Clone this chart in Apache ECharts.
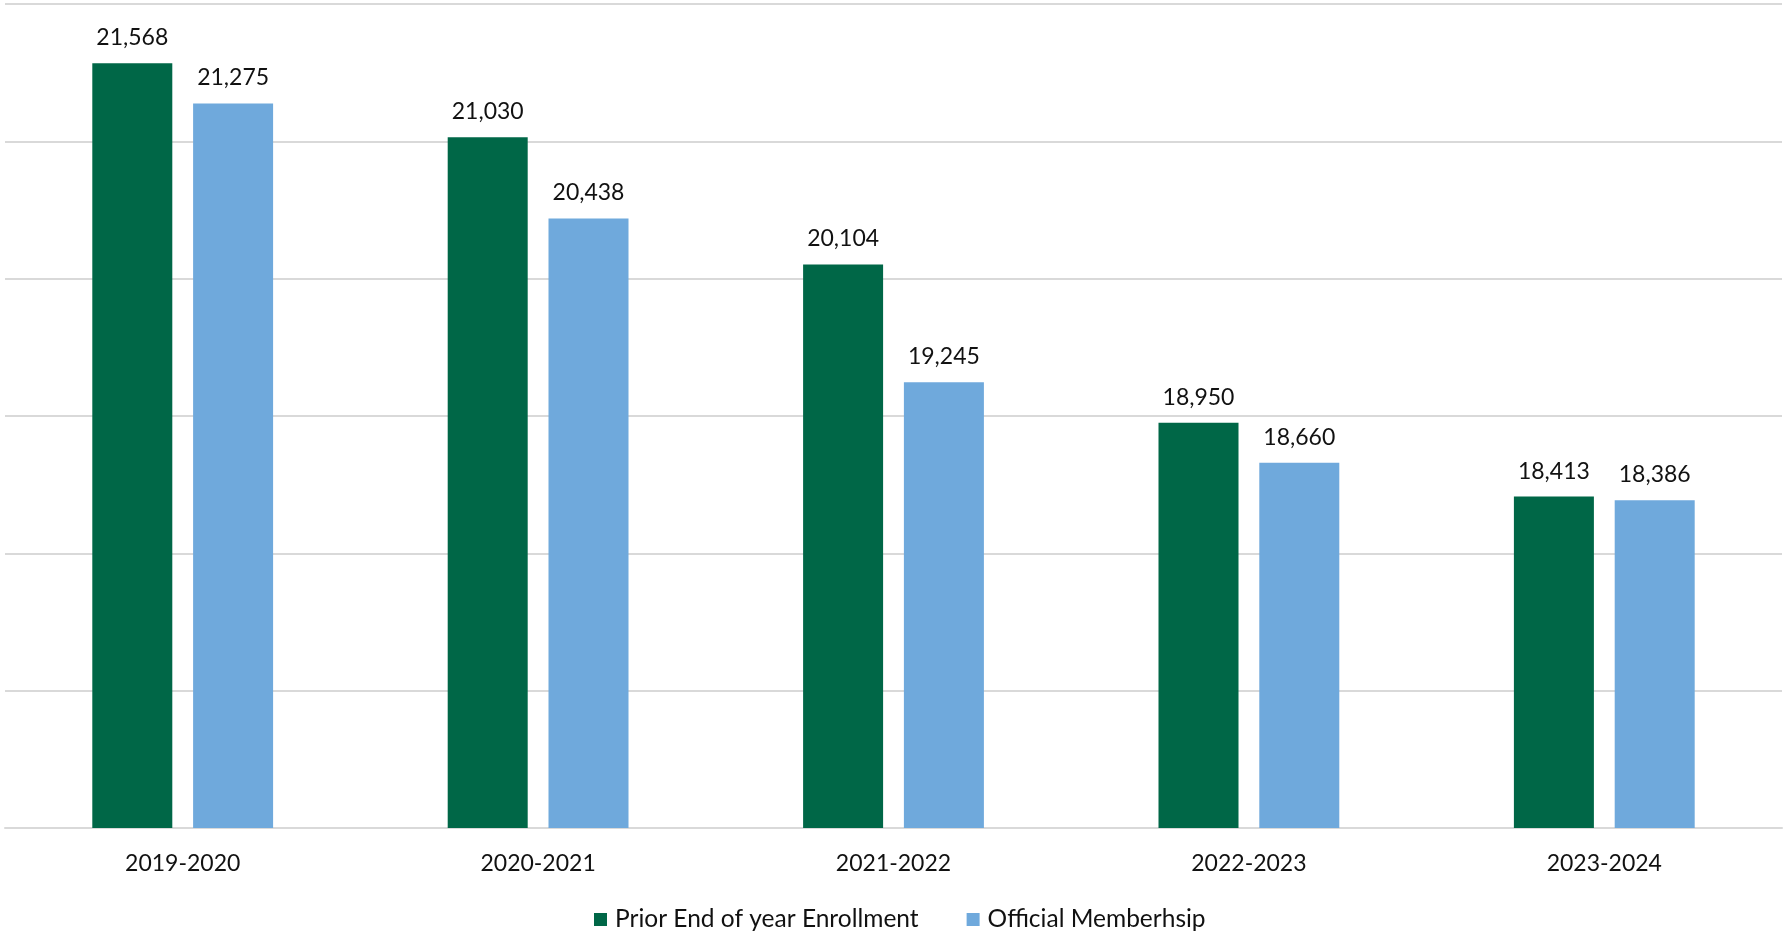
<!DOCTYPE html>
<html>
<head>
<meta charset="utf-8">
<script src="https://cdn.jsdelivr.net/npm/echarts@6/dist/echarts.min.js"></script>
<style>html,body{margin:0;padding:0;background:#fff}#c{width:1783px;height:937px}</style>
</head>
<body>
<div id="c"></div>
<script>
const categories = ['2019-2020', '2020-2021', '2021-2022', '2022-2023', '2023-2024'];
const priorEnrollment = [21568, 21030, 20104, 18950, 18413];
const officialMembership = [21275, 20438, 19245, 18660, 18386];
const seriesNames = ['Prior End of year Enrollment', 'Official Memberhsip'];

const chart = echarts.init(document.getElementById('c'));
const font = 'Lato, "Open Sans", sans-serif';
const labelCfg = {
  show: true, position: 'top', distance: 14,
  fontFamily: font, fontSize: 23, color: '#111',
  formatter: p => p.value.toLocaleString('en-US')
};
chart.setOption({
  animation: false,
  textStyle: { fontFamily: font },
  grid: { left: 5, right: 1, top: 4, bottom: 109, containLabel: false },
  legend: {
    left: 589, top: 902,
    itemWidth: 13, itemHeight: 13, itemGap: 48,
    icon: 'rect',
    textStyle: { fontFamily: font, fontSize: 24.5, color: '#111', padding: [0, 0, 0, 3] },
    data: seriesNames
  },
  xAxis: {
    type: 'category', data: categories,
    axisLine: { lineStyle: { color: '#d9d9d9', width: 2 } },
    axisTick: { show: false },
    axisLabel: { fontFamily: font, fontSize: 23, color: '#111', margin: 24 }
  },
  yAxis: {
    type: 'value', min: 16000, max: 22000, interval: 1000,
    axisLabel: { show: false },
    axisLine: { show: false }, axisTick: { show: false },
    splitLine: { lineStyle: { color: '#d9d9d9', width: 2 } }
  },
  series: [
    { name: seriesNames[0], type: 'bar', data: priorEnrollment, barWidth: 80, barGap: '26%',
      itemStyle: { color: '#006747' }, label: labelCfg },
    { name: seriesNames[1], type: 'bar', data: officialMembership, barWidth: 80,
      itemStyle: { color: '#6fa9dc' }, label: labelCfg }
  ]
});
</script>
</body>
</html>
